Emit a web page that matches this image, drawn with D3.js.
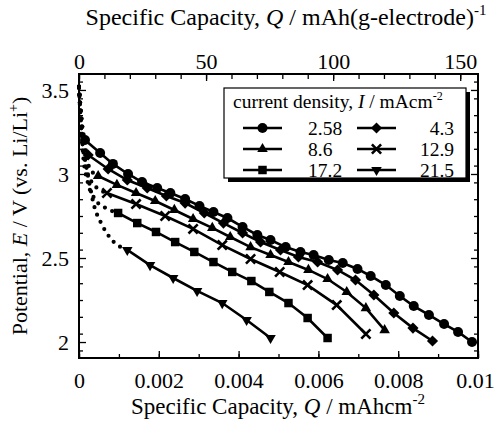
<!DOCTYPE html>
<html>
<head>
<meta charset="utf-8">
<script src="https://cdn.jsdelivr.net/npm/d3@7"></script>
<style>
  body { margin: 0; background: #fff; }
  svg { display: block; font-family: "Liberation Serif", "Times New Roman", serif; }
</style>
</head>
<body>
<svg width="496" height="429"></svg>
<script>
// current densities (mA cm^-2) and the measured points [Q (mAh cm^-2), E (V)]
const currents = ["2.58", "4.3", "8.6", "12.9", "17.2", "21.5"];
const symbols = ["circle", "diamond", "triangle", "cross", "square", "triangleDown"];

const s258 = [[0.00015,3.202],[0.00053,3.125],[0.00085,3.060],[0.00123,3.000],[0.00158,2.952],[0.00196,2.917],[0.00229,2.887],[0.00266,2.851],[0.00302,2.810],[0.00337,2.774],[0.00372,2.738],[0.00410,2.685],[0.00447,2.637],[0.00480,2.607],[0.00518,2.565],[0.00555,2.536],[0.00588,2.518],[0.00626,2.488],[0.00661,2.470],[0.00698,2.435],[0.00731,2.393],[0.00769,2.339],[0.00804,2.274],[0.00839,2.214],[0.00877,2.161],[0.00915,2.107],[0.00950,2.060],[0.00985,2.000]];
const s43 = [[0.00023,3.113],[0.00073,3.030],[0.00121,2.964],[0.00171,2.917],[0.00219,2.869],[0.00266,2.827],[0.00314,2.768],[0.00362,2.708],[0.00410,2.649],[0.00455,2.595],[0.00505,2.548],[0.00550,2.506],[0.00598,2.476],[0.00648,2.429],[0.00693,2.369],[0.00739,2.280],[0.00789,2.173],[0.00837,2.083],[0.00886,2.006]];
const s86 = [[0.00048,2.988],[0.00095,2.935],[0.00143,2.887],[0.00191,2.839],[0.00239,2.786],[0.00286,2.732],[0.00334,2.679],[0.00379,2.625],[0.00430,2.565],[0.00480,2.518],[0.00525,2.476],[0.00575,2.429],[0.00623,2.375],[0.00671,2.298],[0.00719,2.202],[0.00766,2.071]];
const s129 = [[0.00070,2.887],[0.00143,2.821],[0.00216,2.750],[0.00286,2.673],[0.00359,2.577],[0.00430,2.494],[0.00503,2.417],[0.00573,2.339],[0.00646,2.220],[0.00719,2.048]];
const s172 = [[0.00098,2.768],[0.00146,2.708],[0.00193,2.655],[0.00241,2.595],[0.00289,2.536],[0.00337,2.476],[0.00384,2.417],[0.00432,2.363],[0.00477,2.298],[0.00525,2.232],[0.00573,2.143],[0.00623,2.024]];
const s215 = [[0.00121,2.548],[0.00178,2.458],[0.00236,2.381],[0.00296,2.304],[0.00359,2.232],[0.00420,2.131],[0.00480,2.024]];

// initial voltage drop (dotted) from open circuit to first point
const d258 = [[0,3.52],[0.00002,3.45],[0.00005,3.36],[0.00009,3.27],[0.00015,3.202]];
const d43 = [[0,3.52],[0.00003,3.42],[0.00007,3.31],[0.00013,3.19],[0.00023,3.113]];
const d86 = [[0,3.52],[0.00004,3.38],[0.00010,3.22],[0.00019,3.09],[0.00031,3.02],[0.00048,2.988]];
const d129 = [[0,3.52],[0.00004,3.35],[0.00010,3.17],[0.00020,3.02],[0.00036,2.94],[0.00070,2.887]];
const d172 = [[0,3.52],[0.00004,3.32],[0.00010,3.12],[0.00022,2.95],[0.00040,2.85],[0.00065,2.80],[0.00098,2.768]];
const d215 = [[0,3.51],[0.00003,3.38],[0.00008,3.20],[0.00018,3.05],[0.00028,2.92],[0.00038,2.81],[0.00055,2.71],[0.00078,2.62],[0.00121,2.548]];

const bottomTicks = [0, 0.002, 0.004, 0.006, 0.008, 0.01];
const topTicks = [0, 50, 100, 150];
const leftTicks = [2, 2.5, 3, 3.5];

const series = [s258, s43, s86, s129, s172, s215];
const dotted = [d258, d43, d86, d129, d172, d215];

const svg = d3.select("svg");
const pLeft = 79, pRight = 478, pTop = 74, pBottom = 358;

const x = d3.scaleLinear().domain([0, 0.01]).range([pLeft, pRight]);
const xTop = d3.scaleLinear().domain([0, 157]).range([pLeft, pRight]);
const y = d3.scaleLinear().domain([1.905, 3.595]).range([pBottom, pTop]);

// minor ticks
const minorX = d3.range(0, 0.0101, 0.001);
const minorTop = d3.range(0, 157, 10);
const minorY = d3.range(1.95, 3.6, 0.1).map(v => +v.toFixed(2));

function axisStyle(g) {
  g.select(".domain").remove();
  g.selectAll("line").attr("stroke", "#000").attr("stroke-width", 1.3);
  g.selectAll("text").attr("fill", "#000").style("font-size", "22px").style("font-family", "Liberation Serif, serif");
}

svg.append("g").attr("transform", `translate(0,${pBottom})`)
  .call(d3.axisBottom(x).tickValues(minorX).tickSize(-4).tickFormat(""))
  .call(axisStyle);
svg.append("g").attr("transform", `translate(0,${pBottom})`)
  .call(d3.axisBottom(x).tickValues(bottomTicks).tickSize(-7).tickPadding(14)
    .tickFormat(d => String(+d.toFixed(3))))
  .call(axisStyle)
  .call(g => g.selectAll("text").filter(d => d === 0.01).attr("dx", -3));

svg.append("g").attr("transform", `translate(0,${pTop})`)
  .call(d3.axisTop(xTop).tickValues(minorTop).tickSize(-5).tickFormat(""))
  .call(axisStyle);
svg.append("g").attr("transform", `translate(0,${pTop})`)
  .call(d3.axisTop(xTop).tickValues(topTicks).tickSize(-7).tickPadding(5))
  .call(axisStyle);

svg.append("g").attr("transform", `translate(${pLeft},0)`)
  .call(d3.axisLeft(y).tickValues(minorY).tickSize(-4).tickFormat(""))
  .call(axisStyle);
svg.append("g").attr("transform", `translate(${pLeft},0)`)
  .call(d3.axisLeft(y).tickValues(leftTicks).tickSize(-7).tickPadding(10).tickFormat(d => String(d)))
  .call(axisStyle);

svg.append("g").attr("transform", `translate(${pRight},0)`)
  .call(d3.axisRight(y).tickValues(minorY).tickSize(-4).tickFormat(""))
  .call(axisStyle);
svg.append("g").attr("transform", `translate(${pRight},0)`)
  .call(d3.axisRight(y).tickValues(leftTicks).tickSize(-7).tickFormat(""))
  .call(axisStyle);

// frame
svg.append("rect")
  .attr("x", pLeft).attr("y", pTop)
  .attr("width", pRight - pLeft).attr("height", pBottom - pTop)
  .attr("fill", "none").attr("stroke", "#000").attr("stroke-width", 2);

// marker drawing
function drawMarker(g, type, cx, cy) {
  const t = `translate(${cx},${cy})`;
  if (type === "circle") {
    g.append("circle").attr("cx", cx).attr("cy", cy).attr("r", 5).attr("fill", "#000");
  } else if (type === "diamond") {
    g.append("path").attr("transform", t + " rotate(45)")
      .attr("d", d3.symbol(d3.symbolSquare, 62)()).attr("fill", "#000");
  } else if (type === "square") {
    g.append("path").attr("transform", t)
      .attr("d", d3.symbol(d3.symbolSquare, 72)()).attr("fill", "#000");
  } else if (type === "triangle") {
    g.append("path").attr("transform", t)
      .attr("d", d3.symbol(d3.symbolTriangle, 48)()).attr("fill", "#000");
  } else if (type === "triangleDown") {
    g.append("path").attr("transform", t + " rotate(180)")
      .attr("d", d3.symbol(d3.symbolTriangle, 48)()).attr("fill", "#000");
  } else if (type === "cross") {
    const r = 4.6;
    g.append("path").attr("transform", t)
      .attr("d", `M${-r},${-r}L${r},${r}M${-r},${r}L${r},${-r}`)
      .attr("stroke", "#000").attr("stroke-width", 2.6).attr("fill", "none");
  }
}

const plot = svg.append("g");

// dotted initial parts
const dotLine = d3.line().x(d => x(d[0])).y(d => y(d[1])).curve(d3.curveMonotoneX);
dotted.forEach(d => {
  plot.append("path").attr("d", dotLine(d))
    .attr("fill", "none").attr("stroke", "#000")
    .attr("stroke-width", 4.2).attr("stroke-linecap", "round")
    .attr("stroke-dasharray", "0 8");
});

// solid lines with markers
const line = d3.line().x(d => x(d[0])).y(d => y(d[1]));
series.forEach((s, i) => {
  plot.append("path").attr("d", line(s))
    .attr("fill", "none").attr("stroke", "#000").attr("stroke-width", 2.6);
  s.forEach(p => drawMarker(plot, symbols[i], x(p[0]), y(p[1])));
});

// legend
const lg = svg.append("g");
const lx = 224, ly = 88, lw = 242, lh = 90;
lg.append("rect").attr("x", lx + 4).attr("y", ly + 4).attr("width", lw).attr("height", lh).attr("fill", "#000");
lg.append("rect").attr("x", lx).attr("y", ly).attr("width", lw).attr("height", lh)
  .attr("fill", "#fff").attr("stroke", "#000").attr("stroke-width", 1.2);

const lt = lg.append("text").attr("x", lx + 9).attr("y", ly + 20).style("font-size", "19.5px");
lt.append("tspan").text("current density, ");
lt.append("tspan").attr("font-style", "italic").text("I");
lt.append("tspan").text(" / mAcm");
lt.append("tspan").attr("dy", -8).style("font-size", "12px").text("-2");

const rowY = [128, 149, 170];
currents.forEach((c, i) => {
  const col = i % 2, row = Math.floor(i / 2);
  const yy = rowY[row];
  const x0 = col === 0 ? 243 : 357, x1 = x0 + 39;
  lg.append("line").attr("x1", x0).attr("x2", x1).attr("y1", yy).attr("y2", yy)
    .attr("stroke", "#000").attr("stroke-width", 2.6);
  drawMarker(lg, symbols[i], (x0 + x1) / 2, yy);
  lg.append("text")
    .attr("x", col === 0 ? 308 : 454).attr("y", yy + 7)
    .attr("text-anchor", col === 0 ? "start" : "end")
    .style("font-size", "19.5px").text(c);
});

// axis titles
const bt = svg.append("text").attr("x", 278).attr("y", 414).attr("text-anchor", "middle").style("font-size", "23px");
bt.append("tspan").text("Specific Capacity, ");
bt.append("tspan").attr("font-style", "italic").text("Q");
bt.append("tspan").text(" / mAhcm");
bt.append("tspan").attr("dy", -10).style("font-size", "15px").text("-2");

const tt = svg.append("text").attr("x", 286).attr("y", 25).attr("text-anchor", "middle").style("font-size", "24px");
tt.append("tspan").text("Specific Capacity, ");
tt.append("tspan").attr("font-style", "italic").text("Q");
tt.append("tspan").text(" / mAh(g-electrode)");
tt.append("tspan").attr("dy", -10).style("font-size", "15px").text("-1");

const yt = svg.append("text").attr("transform", `translate(27,${(pTop + pBottom) / 2}) rotate(-90)`)
  .attr("text-anchor", "middle").style("font-size", "22px");
yt.append("tspan").text("Potential, ");
yt.append("tspan").attr("font-style", "italic").text("E");
yt.append("tspan").text(" / V (vs. Li/Li");
yt.append("tspan").attr("dy", -9).style("font-size", "14px").text("+");
yt.append("tspan").attr("dy", 9).text(")");
</script>
</body>
</html>
